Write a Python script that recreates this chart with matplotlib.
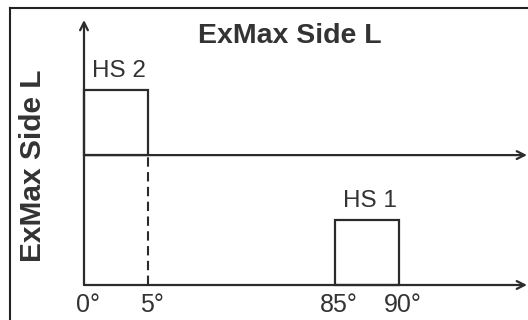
import matplotlib
matplotlib.use("Agg")
import matplotlib.pyplot as plt
import matplotlib.transforms as mtransforms
from matplotlib.lines import Line2D
import numpy as np

# heat-shield segments: angular range and level (schematic)
segments = ["HS 1", "HS 2"]
starts = [85, 0]
ends = [90, 5]
baselines = [0, 2]
heights = [1, 1]

tick_angles = [0, 5, 85, 90]
tick_labels = ["0°", "5°", "85°", "90°"]

title = "ExMax Side L"
ink = "#2b2b2b"
plt.rcParams["font.family"] = ["Liberation Sans", "DejaVu Sans"]

# schematic (broken) angle axis: narrow gap between 5° and 85°
breaks = [0, 5, 85, 90, 100]
stretch = [0, 64, 251, 315, 443]


def fwd(x):
    return np.interp(x, breaks, stretch)


def inv(y):
    return np.interp(y, stretch, breaks)


fig = plt.figure(figsize=(5.28, 3.2), dpi=100)
ax = fig.add_axes([84 / 528, 35 / 320, 443 / 528, 265 / 320])
ax.set_xscale("function", functions=(fwd, inv))
ax.set_xlim(0, 100)
ax.set_ylim(0, 4.08)
for s in ax.spines.values():
    s.set_visible(False)
ax.set_yticks([])

# boxes
widths = np.array(ends) - np.array(starts)
ax.bar(starts, heights, width=widths, bottom=baselines, align="edge",
       fill=False, edgecolor=ink, linewidth=1.6, clip_on=False)
for name, s, e, b, h in zip(segments, starts, ends, baselines, heights):
    mid = inv((fwd(s) + fwd(e)) / 2)
    ax.annotate(name, xy=(mid, b + h), xytext=(2, 6), textcoords="offset points",
                ha="center", va="bottom", fontsize=17.5, color="#333333")

# axes with arrows
arrow = dict(arrowstyle="->", color=ink, lw=1.6, mutation_scale=14,
             shrinkA=0, shrinkB=0)
for b in sorted(set(baselines)):
    ax.annotate("", xy=(100, b), xytext=(0, b), arrowprops=arrow,
                annotation_clip=False)
ax.annotate("", xy=(0, 4.08), xytext=(0, 0), arrowprops=arrow,
            annotation_clip=False)

# dashed drop line at end of HS 2
ax.plot([ends[1], ends[1]], [0, baselines[1]], color=ink, lw=1.5,
        linestyle=(0, (4.5, 2.6)), clip_on=False)

ax.set_xticks(tick_angles, tick_labels, fontsize=18, color="#333333")
ax.tick_params(axis="x", length=0, pad=6)
shift = mtransforms.ScaledTranslation(4 / 100, 0, fig.dpi_scale_trans)
for lab in ax.get_xticklabels():
    lab.set_transform(lab.get_transform() + shift)

fig.text(290 / 528, 1 - 43 / 320, title, ha="center", va="baseline",
         fontsize=20.5, fontweight="bold", color="#333333")
fig.text(33 / 528, 1 - 166 / 320, title, ha="center", va="center",
         rotation=90, fontsize=21.5, fontweight="bold", color="#333333")

# outer frame (left and top edges)
fig.add_artist(Line2D([9.5 / 528, 9.5 / 528], [0, 1 - 8 / 320],
                      transform=fig.transFigure, color="#222222", lw=1.5))
fig.add_artist(Line2D([9.5 / 528, 1], [1 - 8 / 320, 1 - 8 / 320],
                      transform=fig.transFigure, color="#222222", lw=1.5))

fig.savefig("out.png", dpi=100)
